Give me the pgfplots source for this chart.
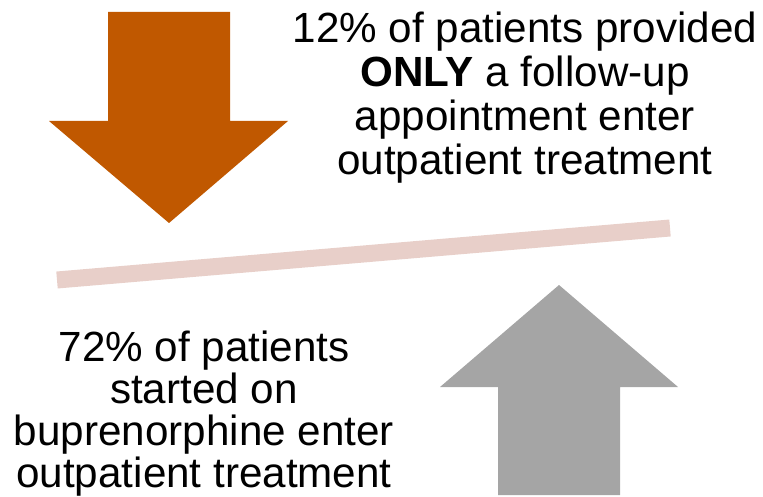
\documentclass[border=0pt]{standalone}
\usepackage{fontspec}
\setmainfont{Liberation Sans}
\usepackage{pgfplots}
\pgfplotsset{compat=1.18}
\definecolor{arrorange}{RGB}{192,88,0}
\definecolor{arrgray}{RGB}{165,165,165}
\definecolor{barpink}{RGB}{232,207,201}

\begin{document}
\begin{tikzpicture}
  \begin{axis}[
      name=ax,
      width=763pt, height=497pt,
      scale only axis,
      xmin=0, xmax=763,
      ymin=0, ymax=497,
      y dir=reverse,
      enlargelimits=false,
      hide axis,
      clip=false,
    ]
    % down arrow (orange)
    \addplot[fill=arrorange, draw=none] coordinates {
      (108,12) (230,12) (230,121) (288,121) (169,223) (49,121) (108,121)
    } -- cycle;
    % up arrow (gray)
    \addplot[fill=arrgray, draw=none] coordinates {
      (498,495) (620,495) (620,387) (678,387) (559,285) (440,387) (498,387)
    } -- cycle;
    % tilted bar
    \addplot[draw=barpink, line width=17pt] coordinates {(57,280) (670,228)};

    \begin{scope}[every node/.style={anchor=base, inner sep=0pt,
        font=\fontsize{42.2}{46}\selectfont}]
      \node at (axis cs:525,43)  {12\% of patients provided};
      \node at (axis cs:525,87)  {\textbf{ONLY} a follow-up};
      \node at (axis cs:525,131) {appointment enter};
      \node at (axis cs:525,175) {outpatient treatment};
      \node at (axis cs:204,361) {72\% of patients};
      \node at (axis cs:204,403) {started on};
      \node at (axis cs:204,445) {buprenorphine enter};
      \node at (axis cs:204,487) {outpatient treatment};
    \end{scope}
  \end{axis}
  \pgfresetboundingbox
  \path[use as bounding box] (ax.south west) rectangle (ax.north east);
\end{tikzpicture}
\end{document}
